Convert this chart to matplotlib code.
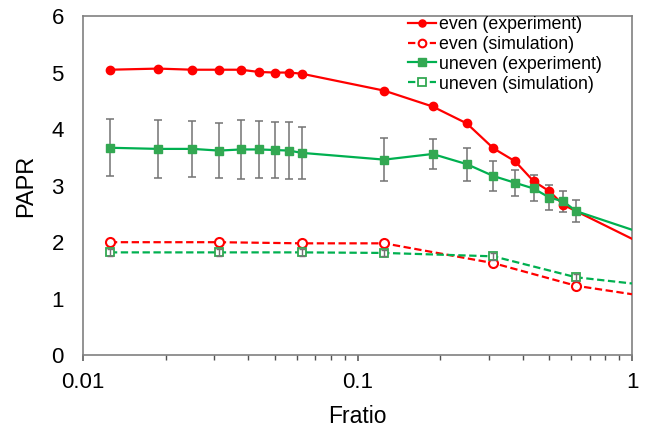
import matplotlib
matplotlib.use("Agg")
import matplotlib.pyplot as plt
from matplotlib.ticker import LogLocator, NullFormatter, FixedLocator, FixedFormatter

plt.rcParams['font.family'] = ['Liberation Sans', 'DejaVu Sans']

# ---- data ----
x_even_exp = [0.0125, 0.01875, 0.025, 0.03125, 0.0375, 0.04375, 0.05, 0.05625, 0.0625,
              0.125, 0.1875, 0.25, 0.3125, 0.375, 0.4375, 0.5, 0.5625, 1.0]
y_even_exp = [5.05, 5.07, 5.05, 5.05, 5.05, 5.01, 5.0, 5.0, 4.98,
              4.68, 4.40, 4.10, 3.66, 3.43, 3.08, 2.90, 2.66, 2.06]

x_uneven_exp = [0.0125, 0.01875, 0.025, 0.03125, 0.0375, 0.04375, 0.05, 0.05625, 0.0625,
                0.125, 0.1875, 0.25, 0.3125, 0.375, 0.4375, 0.5, 0.5625, 0.625, 1.0]
y_uneven_exp = [3.67, 3.65, 3.65, 3.62, 3.64, 3.64, 3.63, 3.62, 3.58,
                3.46, 3.56, 3.38, 3.17, 3.05, 2.95, 2.79, 2.72, 2.55, 2.22]
err_uneven_exp = [0.50, 0.51, 0.50, 0.48, 0.52, 0.50, 0.50, 0.50, 0.46,
                  0.38, 0.26, 0.29, 0.27, 0.23, 0.23, 0.22, 0.19, 0.19, 0.0]

x_sim = [0.0125, 0.03125, 0.0625, 0.125, 0.3125, 0.625, 1.0]
y_even_sim = [2.00, 2.00, 1.98, 1.98, 1.63, 1.23, 1.08]
y_uneven_sim = [1.82, 1.82, 1.82, 1.81, 1.75, 1.38, 1.27]
err_uneven_sim = [0.06, 0.06, 0.06, 0.06, 0.06, 0.06, 0.0]

labels = ["even (experiment)", "even (simulation)", "uneven (experiment)", "uneven (simulation)"]
xtick_vals = [0.01, 0.1, 1]
xtick_labels = ["0.01", "0.1", "1"]

RED = "#FF0000"
GREEN = "#00B050"
GREEN_M = "#33A852"
GRAY = "#737373"

fig = plt.figure(figsize=(6.5, 4.32), dpi=100)
ax = fig.add_axes([83.3/650, 1 - 355.3/432, (632 - 83.3)/650, (355.3 - 16)/432])

dash = (3.3, 1.6)

# even experiment
n1 = len(x_even_exp)
ax.plot(x_even_exp, y_even_exp, color=RED, lw=1.6, marker='o', ms=6,
        markevery=list(range(n1 - 1)), label=labels[0], zorder=4)
# even simulation
n2 = len(x_sim)
ax.plot(x_sim, y_even_sim, color=RED, lw=1.6, ls=(0, dash), marker='o', ms=6.5,
        mfc='white', mew=1.5, markevery=list(range(n2 - 1)), label=labels[1], zorder=3)
# uneven experiment
n3 = len(x_uneven_exp)
ax.errorbar(x_uneven_exp[:-1], y_uneven_exp[:-1], yerr=err_uneven_exp[:-1], fmt='none',
            ecolor=GRAY, elinewidth=1.1, capsize=2.6, capthick=1.1, zorder=2)
ax.plot(x_uneven_exp, y_uneven_exp, color=GREEN, lw=1.6, marker='s', ms=6,
        mfc=GREEN_M, mec=GREEN_M, markevery=list(range(n3 - 1)), label=labels[2], zorder=5)
# uneven simulation
ax.plot(x_sim, y_uneven_sim, color=GREEN, lw=1.6, ls=(0, dash), marker='s', ms=6,
        mfc='white', mec=GREEN_M, mew=1.3, markevery=list(range(n2 - 1)), label=labels[3], zorder=3)
ax.errorbar(x_sim[:-1], y_uneven_sim[:-1], yerr=err_uneven_sim[:-1], fmt='none',
            ecolor=GRAY, elinewidth=1.0, capsize=2.0, capthick=1.0, zorder=3.5)

ax.set_xscale('log')
ax.set_xlim(0.01, 1)
ax.set_ylim(0, 6)
ax.xaxis.set_major_locator(FixedLocator(xtick_vals))
ax.xaxis.set_major_formatter(FixedFormatter(xtick_labels))
ax.xaxis.set_minor_locator(LogLocator(base=10, subs=range(2, 10)))
ax.xaxis.set_minor_formatter(NullFormatter())
ax.set_yticks(range(0, 7))

for s in ax.spines.values():
    s.set_color('#808080')
    s.set_linewidth(1.2)

ax.tick_params(axis='x', which='major', direction='out', length=4, width=1.1,
               color='#505050', labelsize=16, pad=8)
ax.tick_params(axis='x', which='minor', direction='out', length=3.5, width=1.0,
               color='#505050')
ax.tick_params(axis='y', which='both', length=0, labelsize=16, pad=14)
ax.tick_params(top=False, right=False)

ax.set_xlabel("Fratio", fontsize=16.5, labelpad=9)
ax.set_ylabel("PAPR", fontsize=17, labelpad=10)

leg = ax.legend(loc='upper left', bbox_to_anchor=(408/650, 1 - 16/432),
                bbox_transform=fig.transFigure, frameon=False, fontsize=12.8,
                borderpad=0, borderaxespad=0, labelspacing=0.16,
                handlelength=1.6, handletextpad=0.15, markerscale=0.85)

fig.savefig("out.png", dpi=100)
